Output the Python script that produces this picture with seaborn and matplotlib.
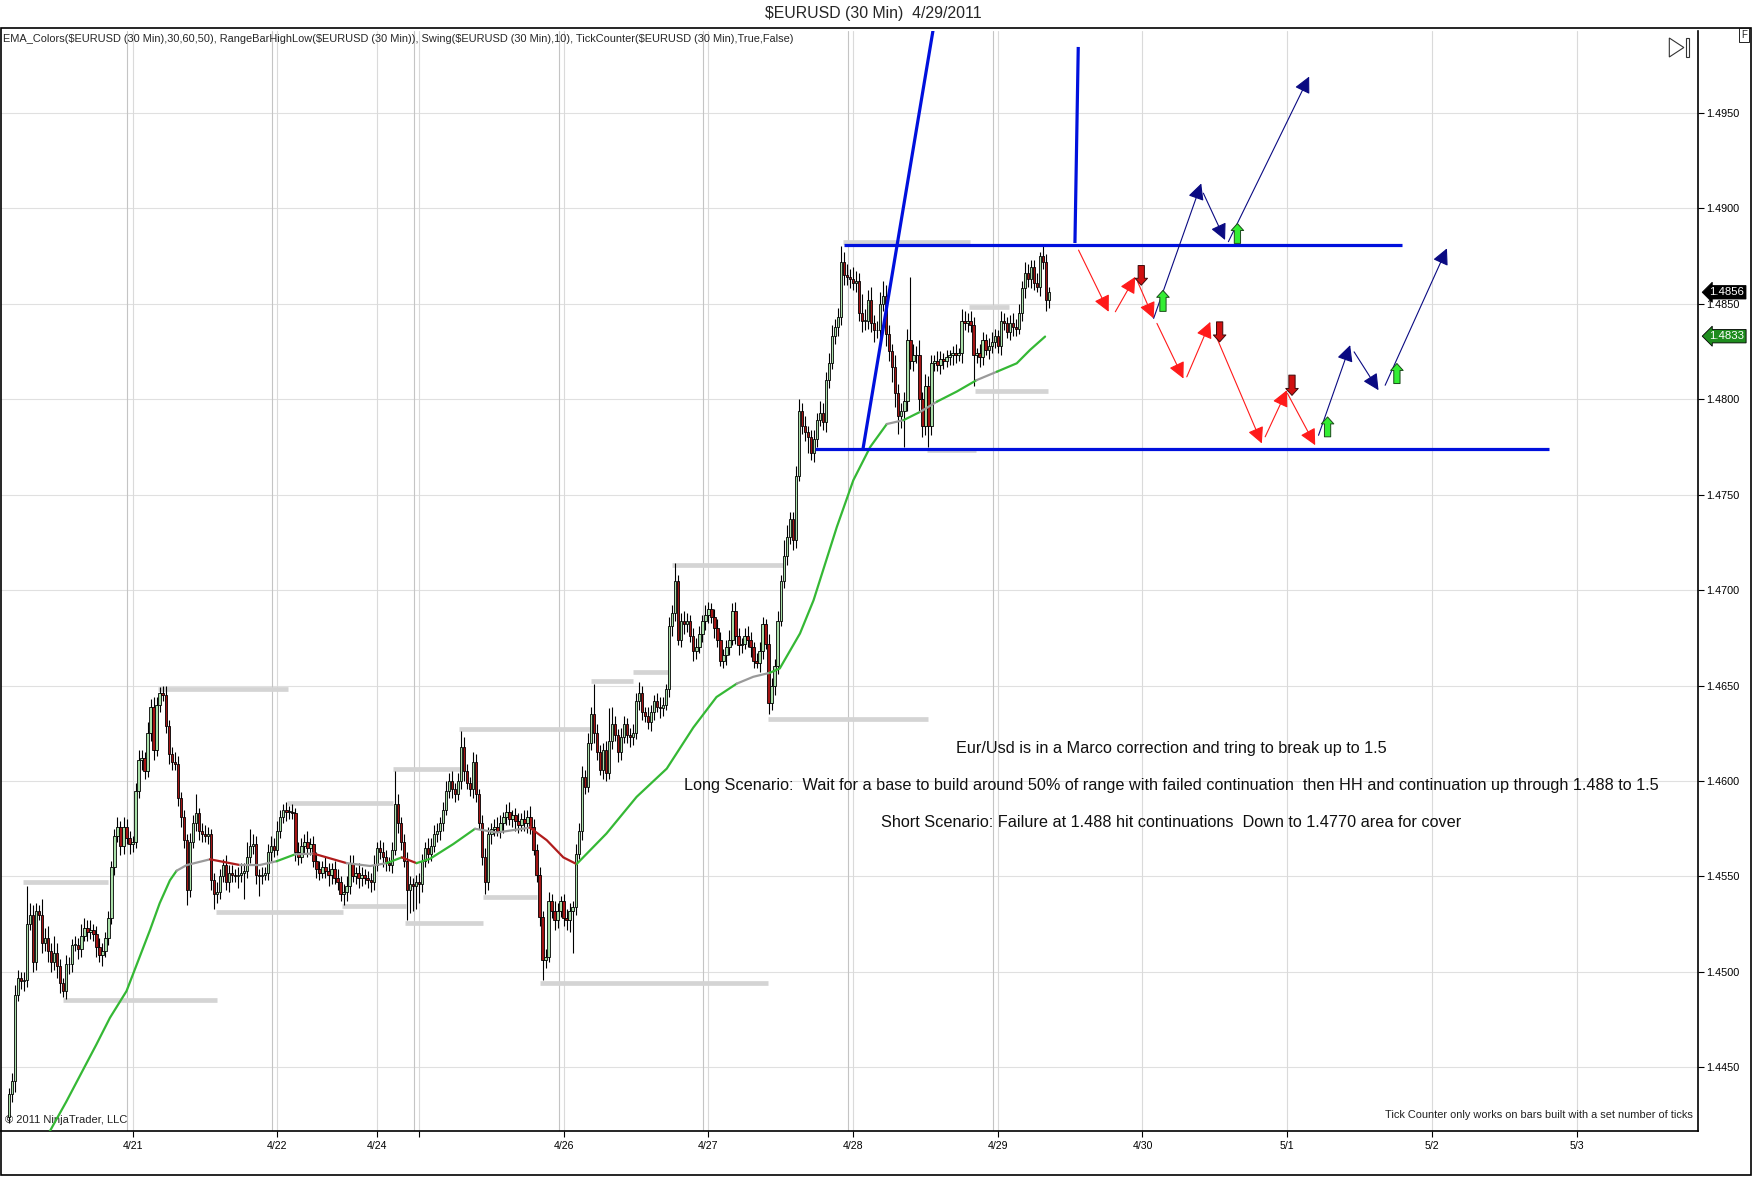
import numpy as np
import matplotlib
matplotlib.use("Agg")
import matplotlib.pyplot as plt
import matplotlib.transforms as mtransforms
from matplotlib.patches import Polygon, Rectangle
import seaborn as sns

# prices are kept in pips above 1.4400
BASE = 1.4400
PIP = 0.0001

first_open = 24
closes = [
    36, 43, 88, 97, 95, 96, 125, 130, 105, 132,
    130, 115, 118, 111, 105, 110, 103, 94, 90, 104,
    104, 114, 114, 112, 119, 123, 121, 122, 120, 113,
    109, 111, 118, 128, 155, 171, 176, 166, 176, 170,
    167, 168, 195, 211, 212, 205, 225, 239, 216, 240,
    246, 245, 229, 214, 210, 209, 191, 181, 169, 143,
    168, 178, 183, 174, 172, 171, 172, 148, 141, 142,
    150, 156, 147, 152, 151, 150, 151, 152, 153, 160,
    166, 167, 151, 150, 151, 152, 163, 166, 164, 174,
    181, 185, 184, 184, 183, 163, 160, 166, 168, 165,
    167, 158, 154, 152, 155, 153, 151, 154, 149, 147,
    141, 142, 145, 157, 150, 152, 149, 151, 149, 148,
    147, 156, 165, 163, 160, 157, 156, 164, 188, 178,
    168, 158, 143, 146, 145, 147, 146, 158, 165, 162,
    166, 172, 174, 178, 185, 195, 200, 196, 193, 200,
    218, 205, 199, 196, 210, 193, 178, 160, 147, 172,
    175, 176, 174, 178, 181, 184, 180, 182, 179, 177,
    180, 178, 181, 176, 164, 151, 129, 106, 108, 137,
    132, 127, 132, 137, 128, 127, 132, 134, 162, 174,
    202, 197, 220, 235, 225, 215, 206, 216, 204, 221,
    230, 224, 215, 223, 230, 224, 223, 225, 242, 246,
    236, 234, 231, 236, 242, 239, 238, 240, 248, 281,
    288, 305, 274, 284, 282, 284, 276, 268, 270, 277,
    284, 287, 290, 286, 280, 274, 263, 266, 270, 274,
    289, 276, 271, 272, 276, 274, 270, 263, 262, 268,
    282, 272, 241, 250, 260, 284, 305, 318, 328, 337,
    326, 360, 394, 386, 383, 380, 372, 379, 389, 393,
    388, 410, 419, 433, 438, 443, 472, 465, 464, 463,
    461, 462, 445, 441, 441, 452, 440, 436, 436, 450,
    454, 434, 425, 417, 403, 391, 394, 399, 431, 420,
    423, 423, 400, 386, 407, 386, 419, 420, 418, 421,
    420, 422, 423, 424, 423, 424, 441, 440, 441, 439,
    423, 424, 422, 431, 426, 428, 430, 433, 428, 441,
    440, 435, 440, 438, 437, 445, 458, 466, 463, 469,
    461, 459, 475, 472, 452, 456,
]
wick_up = [
    3, 4, 5, 4, 3, 4, 20, 6, 5, 4, 3, 8, 5, 6, 4, 9, 5, 4, 3, 5,
    4, 3, 5, 4, 6, 5, 4, 5, 3, 4, 5, 4, 3, 4, 3, 4, 5, 3, 5, 4,
    4, 3, 4, 5, 4, 3, 6, 4, 5, 4, 3, 4, 5, 3, 4, 5, 4, 3, 4, 3,
    5, 4, 10, 3, 4, 5, 4, 3, 4, 5, 4, 3, 5, 4, 4, 3, 4, 5, 4, 8,
    9, 5, 4, 3, 4, 3, 4, 5, 4, 5, 4, 3, 4, 3, 4, 3, 5, 4, 4, 6,
    3, 4, 5, 4, 3, 5, 4, 3, 4, 5, 3, 4, 5, 4, 4, 3, 5, 4, 3, 4,
    4, 5, 3, 4, 5, 4, 3, 4, 17, 5, 3, 4, 5, 4, 3, 4, 5, 4, 3, 5,
    4, 5, 4, 3, 4, 5, 4, 5, 3, 4, 8, 5, 4, 3, 5, 4, 3, 4, 5, 4,
    3, 4, 5, 4, 3, 4, 5, 3, 4, 4, 3, 5, 4, 6, 4, 3, 4, 3, 4, 5,
    4, 5, 4, 3, 4, 5, 4, 3, 5, 4, 6, 4, 5, 4, 16, 5, 4, 4, 5, 17,
    9, 4, 3, 5, 4, 3, 4, 5, 4, 6, 4, 3, 5, 4, 3, 4, 5, 4, 3, 5,
    4, 9, 3, 4, 5, 4, 3, 4, 5, 4, 3, 5, 4, 3, 4, 5, 4, 3, 4, 5,
    4, 5, 4, 3, 4, 5, 4, 3, 4, 5, 4, 3, 5, 4, 4, 5, 3, 8, 6, 4,
    4, 5, 6, 4, 5, 3, 4, 5, 4, 6, 5, 4, 5, 6, 4, 5, 8, 5, 6, 4,
    6, 5, 4, 10, 6, 5, 7, 4, 5, 6, 8, 6, 5, 4, 6, 5, 4, 5, 6, 33,
    6, 5, 8, 4, 6, 5, 4, 3, 5, 4, 3, 4, 3, 4, 5, 3, 6, 5, 4, 5,
    4, 3, 5, 4, 3, 4, 5, 4, 3, 5, 4, 3, 4, 5, 4, 5, 4, 6, 5, 4,
    4, 5, 2, 5, 4, 3,
]
wick_dn = [
    3, 4, 6, 3, 4, 5, 4, 3, 5, 4, 3, 5, 4, 6, 5, 4, 6, 5, 3, 4,
    5, 4, 3, 5, 4, 3, 5, 4, 4, 5, 4, 6, 3, 4, 3, 4, 3, 5, 4, 3,
    5, 4, 3, 4, 5, 4, 3, 4, 5, 3, 4, 3, 4, 5, 4, 3, 4, 5, 4, 8,
    4, 3, 4, 5, 4, 3, 4, 5, 8, 5, 4, 3, 4, 5, 4, 3, 6, 4, 14, 4,
    3, 4, 5, 10, 4, 3, 4, 5, 4, 3, 4, 3, 5, 4, 3, 5, 4, 3, 4, 5,
    4, 3, 5, 4, 3, 4, 6, 5, 3, 4, 4, 6, 5, 4, 3, 4, 5, 4, 3, 4,
    5, 4, 3, 4, 5, 4, 3, 4, 3, 5, 4, 3, 16, 12, 13, 12, 10, 4, 3, 5,
    4, 3, 4, 5, 4, 3, 4, 5, 4, 3, 4, 5, 3, 4, 5, 4, 3, 4, 6, 4,
    5, 4, 3, 4, 5, 4, 3, 4, 5, 4, 3, 4, 5, 4, 3, 4, 5, 10, 4, 3,
    4, 5, 4, 3, 4, 5, 6, 22, 4, 3, 5, 4, 3, 4, 5, 4, 3, 5, 4, 3,
    4, 3, 5, 4, 3, 4, 5, 4, 3, 5, 4, 3, 4, 5, 4, 3, 5, 4, 3, 4,
    5, 4, 3, 4, 5, 4, 3, 5, 4, 3, 4, 5, 4, 3, 5, 4, 3, 4, 5, 4,
    3, 4, 5, 4, 3, 4, 5, 4, 3, 5, 4, 3, 6, 4, 5, 4, 3, 4, 5, 4,
    5, 4, 3, 4, 5, 8, 4, 5, 4, 3, 4, 5, 4, 3, 4, 5, 4, 5, 4, 5,
    4, 5, 4, 6, 5, 4, 5, 6, 4, 5, 4, 6, 5, 8, 7, 9, 6, 19, 5, 4,
    5, 4, 6, 6, 5, 11, 5, 4, 3, 5, 4, 3, 4, 5, 4, 3, 5, 4, 5, 4,
    16, 4, 5, 4, 3, 5, 4, 3, 4, 5, 4, 3, 4, 5, 4, 3, 4, 5, 4, 5,
    4, 3, 5, 4, 6, 4,
]

# EMA (bar index, pips) and its colour state
ema_bar = [13, 19, 29, 33.5, 39, 46.8, 50, 53.4, 55.6, 59, 66.7, 76.6, 83.2, 88.8,
           94.9, 101, 112, 119.8, 125.3, 130.3, 135.2, 139.7, 147.4, 154.6,
           161.8, 172.8, 178.4, 183.9, 188.3, 198.2, 208.2, 218.2, 227, 234.7,
           241.4, 246.9, 252.4, 255.7, 262.4, 266.9, 274.6, 280.1, 285.7,
           291.2, 296.7, 302.3, 307.8, 314.4, 321, 327.7, 334.3, 338.7, 343.7]
ema_pip = [15, 32, 62, 76, 90, 122, 136, 148, 153, 156, 159, 156, 156, 158,
           161.6, 162, 157, 155.5, 157, 160, 157, 159.3, 167, 175,
           173, 175.6, 169, 160, 156.5, 172.5, 191.7, 206.5, 228, 244,
           251, 254.6, 256.7, 259, 277.3, 294.7, 333, 357.6, 375,
           387, 389, 393.4, 398.7, 404, 410, 414.4, 418.8, 425.8, 432.8]
ema_state = ["up", "up", "up", "up", "up", "up", "up", "up", "flat", "flat", "down",
             "flat", "flat", "up", "flat", "down", "flat", "flat", "up", "down",
             "up", "up", "up", "flat", "flat", "down", "down", "down", "up",
             "up", "up", "up", "up", "up", "flat", "flat", "up", "up", "up",
             "up", "up", "up", "up", "flat", "up", "flat", "up", "up", "flat",
             "up", "up", "up", "up"]

# RangeBarHighLow levels: start bar, end bar, pips
range_start = [4.7, 18, 49.5, 68.7, 110.6, 92.3, 127.5, 131.4, 149.3, 157.3,
               176.1, 193, 207, 219.8, 251.9, 276.6, 304.5, 318.5, 320.5]
range_end = [32.9, 69, 92.6, 110.7, 131.7, 127.5, 149.5, 157.3, 192.8, 175.3,
             251.9, 207, 218.7, 257.5, 304.7, 318.8, 320.8, 331.6, 344.8]
range_pip = [147.1, 85.3, 248.4, 131.4, 134.5, 188.5, 206.5, 125.6, 227.1, 139.2,
             94.2, 252.5, 257.2, 313.1, 232.5, 482.5, 373.3, 448.5, 404.5]

date_ticks = [41, 89, 122, 136, 184, 232, 280, 328, 376, 424, 472, 520]
date_labels = ["4/21", "4/22", "4/24", "", "4/26", "4/27", "4/28", "4/29",
               "4/30", "5/1", "5/2", "5/3"]
session_lines = [39.3, 87.3, 134.5, 182.5, 230.3, 278.3, 326.3]
price_ticks = [1.4450, 1.4500, 1.4550, 1.4600, 1.4650, 1.4700, 1.4750,
               1.4800, 1.4850, 1.4900, 1.4950]

# hand drawn objects: (x0, pip0, x1, pip1)
blue_lines = [(277, 481, 462, 481), (267.5, 374, 511, 374),
              (283.3, 374, 310, 626), (353.6, 481.8, 354.7, 584.5)]
red_arrows = [(354.8, 478.1, 364.8, 445.8), (367, 445.8, 373.6, 464.1),
              (374.4, 461.5, 379.7, 442.3), (380.8, 439.7, 389.6, 410.8),
              (390.7, 411.7, 398.5, 440.5), (400.5, 432.7, 415.6, 376.8),
              (416.7, 380.3, 423.9, 404.7), (424.1, 403, 433.3, 375.9)]
navy_arrows = [(379.7, 442.3, 395.5, 513), (396.2, 507.9, 403.4, 483.4),
               (404.5, 482.5, 431.3, 569), (434.4, 381.1, 444.9, 428.3),
               (446.2, 424.8, 454.3, 404.7), (456.5, 407.3, 477, 479)]
up_marks = [(382.8, 446, 457), (407.5, 481.6, 492), (437.4, 380.3, 390.7),
            (460.4, 408.2, 418.7)]
down_marks = [(375.6, 470, 459.7), (401.6, 440.5, 430), (425.6, 412.6, 402)]

notes = ["Eur/Usd is in a Marco correction and tring to break up to 1.5",
         "Long Scenario:  Wait for a base to build around 50% of range with failed "
         "continuation  then HH and continuation up through 1.488 to 1.5",
         "Short Scenario: Failure at 1.488 hit continuations  Down to 1.4770 area for cover"]
notes_pip = [216.9, 197.5, 178.2]


def px(p):
    return BASE + np.asarray(p, dtype=float) * PIP


sns.set_theme(style="white")
plt.rcParams["font.family"] = ["Liberation Sans", "DejaVu Sans"]
plt.rcParams["text.parse_math"] = False

W, H = 1568.0, 1053.0
fig = plt.figure(figsize=(17.52, 11.77), dpi=100, facecolor="white")
ax = fig.add_axes([1 / W, 1 - 1012 / H, 1519 / W, (1012 - 28) / H])
ax.set_facecolor("white")

# grid
for t in price_ticks:
    ax.axhline(t, color="#e0e0e0", lw=0.8, zorder=0)
for t in session_lines:
    ax.axvline(t, color="#c4c4c4", lw=0.8, zorder=0)
for t in date_ticks:
    ax.axvline(t, color="#dadada", lw=0.8, zorder=0)

# range levels
for s, e, p in zip(range_start, range_end, range_pip):
    ax.hlines(px(p), s, e, color="#d4d4d4", lw=3.4, zorder=1)

# candles
c = np.array(closes, dtype=float)
o = np.concatenate([[first_open], c[:-1]])
hi = np.maximum(o, c) + np.array(wick_up)
lo = np.minimum(o, c) - np.array(wick_dn)
x = np.arange(len(c))
up = c >= o
ax.vlines(x, px(lo), px(hi), color="black", lw=0.8, zorder=3)
body = np.maximum(np.abs(c - o), 0.4) * PIP
ax.bar(x, body, bottom=px(np.minimum(o, c)), width=0.8,
       color=np.where(up, "#a9dfa9", "#a31414"), edgecolor="black",
       linewidth=0.6, zorder=4)

# EMA, coloured by state
ema_colors = {"up": "#35b835", "down": "#b01c1c", "flat": "#9a9a9a"}
i = 0
while i < len(ema_bar) - 1:
    j = i
    while j + 1 < len(ema_bar) - 1 and ema_state[j + 1] == ema_state[i]:
        j += 1
    sns.lineplot(x=ema_bar[i:j + 2], y=px(ema_pip[i:j + 2]), ax=ax,
                 color=ema_colors[ema_state[i]], lw=1.6, sort=False,
                 estimator=None, zorder=5)
    i = j + 1

# drawn objects
for x0, p0, x1, p1 in blue_lines:
    ax.plot([x0, x1], px([p0, p1]), color="#0010dd", lw=2.3, zorder=6,
            solid_capstyle="butt")
for arrows, col in ((red_arrows, "#ff1a1a"), (navy_arrows, "#0a0a82")):
    for x0, p0, x1, p1 in arrows:
        ax.annotate("", xy=(x1, px(p1)), xytext=(x0, px(p0)),
                    arrowprops=dict(arrowstyle="-|>,head_length=0.9,head_width=0.45",
                                    color=col, lw=0.8, mutation_scale=11,
                                    shrinkA=0, shrinkB=0), zorder=7)
for xm, p0, p1 in up_marks:
    ax.annotate("", xy=(xm, px(p1)), xytext=(xm, px(p0)),
                arrowprops=dict(arrowstyle="simple,head_length=0.5,head_width=0.9,tail_width=0.45",
                                fc="#33ee33", ec="#1a4a1a", lw=0.7, mutation_scale=10,
                                shrinkA=0, shrinkB=0), zorder=8)
for xm, p0, p1 in down_marks:
    ax.annotate("", xy=(xm, px(p1)), xytext=(xm, px(p0)),
                arrowprops=dict(arrowstyle="simple,head_length=0.5,head_width=0.9,tail_width=0.45",
                                fc="#d01010", ec="#3a0a0a", lw=0.7, mutation_scale=10,
                                shrinkA=0, shrinkB=0), zorder=8)

for txt, p in zip(notes, notes_pip):
    ax.text(385.6, px(p), txt, ha="center", va="center", fontsize=11.7,
            color="#111111", zorder=9)

# axes
ax.set_xlim(-2.6, 560.4)
ax.set_ylim(1.44166, 1.49927)
ax.set_xticks(date_ticks)
ax.set_xticklabels(date_labels)
ax.set_yticks(price_ticks)
ax.set_yticklabels([f"{t:.4f}" for t in price_ticks])
ax.yaxis.tick_right()
ax.tick_params(axis="y", right=True, left=False, direction="out", length=4,
               width=0.8, labelsize=7.8, pad=1.5, colors="black")
ax.tick_params(axis="x", bottom=True, direction="out", length=4, width=0.8,
               labelsize=7.6, pad=3, colors="black")
for side in ("left", "top"):
    ax.spines[side].set_visible(False)
for side in ("right", "bottom"):
    ax.spines[side].set_color("black")
    ax.spines[side].set_linewidth(1.2)

# last price tags
trans = mtransforms.blended_transform_factory(ax.transAxes, ax.transData)
ax.text(1.0065, 1.4856, "1.4856", transform=trans, ha="left", va="center",
        color="white", fontsize=8.2, clip_on=False, zorder=10,
        bbox=dict(boxstyle="larrow,pad=0.15", fc="black", ec="black", lw=0.6))
ax.text(1.0065, 1.4833, "1.4833", transform=trans, ha="left", va="center",
        color="white", fontsize=8.2, clip_on=False, zorder=10,
        bbox=dict(boxstyle="larrow,pad=0.15", fc="#1e8c1e", ec="black", lw=0.6))

ax.text(0.002, 0.006, "\u00a9 2011 NinjaTrader, LLC", transform=ax.transAxes,
        ha="left", va="bottom", fontsize=8, color="#222222")
ax.text(0.9965, 0.01, "Tick Counter only works on bars built with a set number of ticks",
        transform=ax.transAxes, ha="right", va="bottom", fontsize=7.9, color="#222222")

# figure furniture
fig.text(782 / W, 1 - 12 / H, "$EURUSD (30 Min)  4/29/2011", ha="center",
         va="center", fontsize=11.4)
fig.text(3 / W, 1 - 35 / H,
         "EMA_Colors($EURUSD (30 Min),30,60,50), RangeBarHighLow($EURUSD (30 Min)), "
         "Swing($EURUSD (30 Min),10), TickCounter($EURUSD (30 Min),True,False)",
         ha="left", va="center", fontsize=7.95)
fig.add_artist(Rectangle((0.0006, 0.0015), 0.9988, 1 - 25 / H - 0.0015,
                         transform=fig.transFigure, fill=False, ec="black", lw=1.2))
fig.add_artist(Polygon([(1494 / W, 1 - 34 / H), (1494 / W, 1 - 51 / H),
                        (1507 / W, 1 - 42.5 / H)], closed=True,
                       transform=fig.transFigure, fill=False, ec="#333333", lw=0.8))
fig.add_artist(Rectangle((1508.5 / W, 1 - 51 / H), 3.5 / W, 17 / H,
                         transform=fig.transFigure, fill=False, ec="#333333", lw=0.8))
fig.text(1561 / W, 1 - 31 / H, "F", ha="center", va="center", fontsize=7,
         bbox=dict(boxstyle="square,pad=0.2", fc="white", ec="black", lw=0.6))

fig.savefig("out.png", dpi=100, facecolor="white")
